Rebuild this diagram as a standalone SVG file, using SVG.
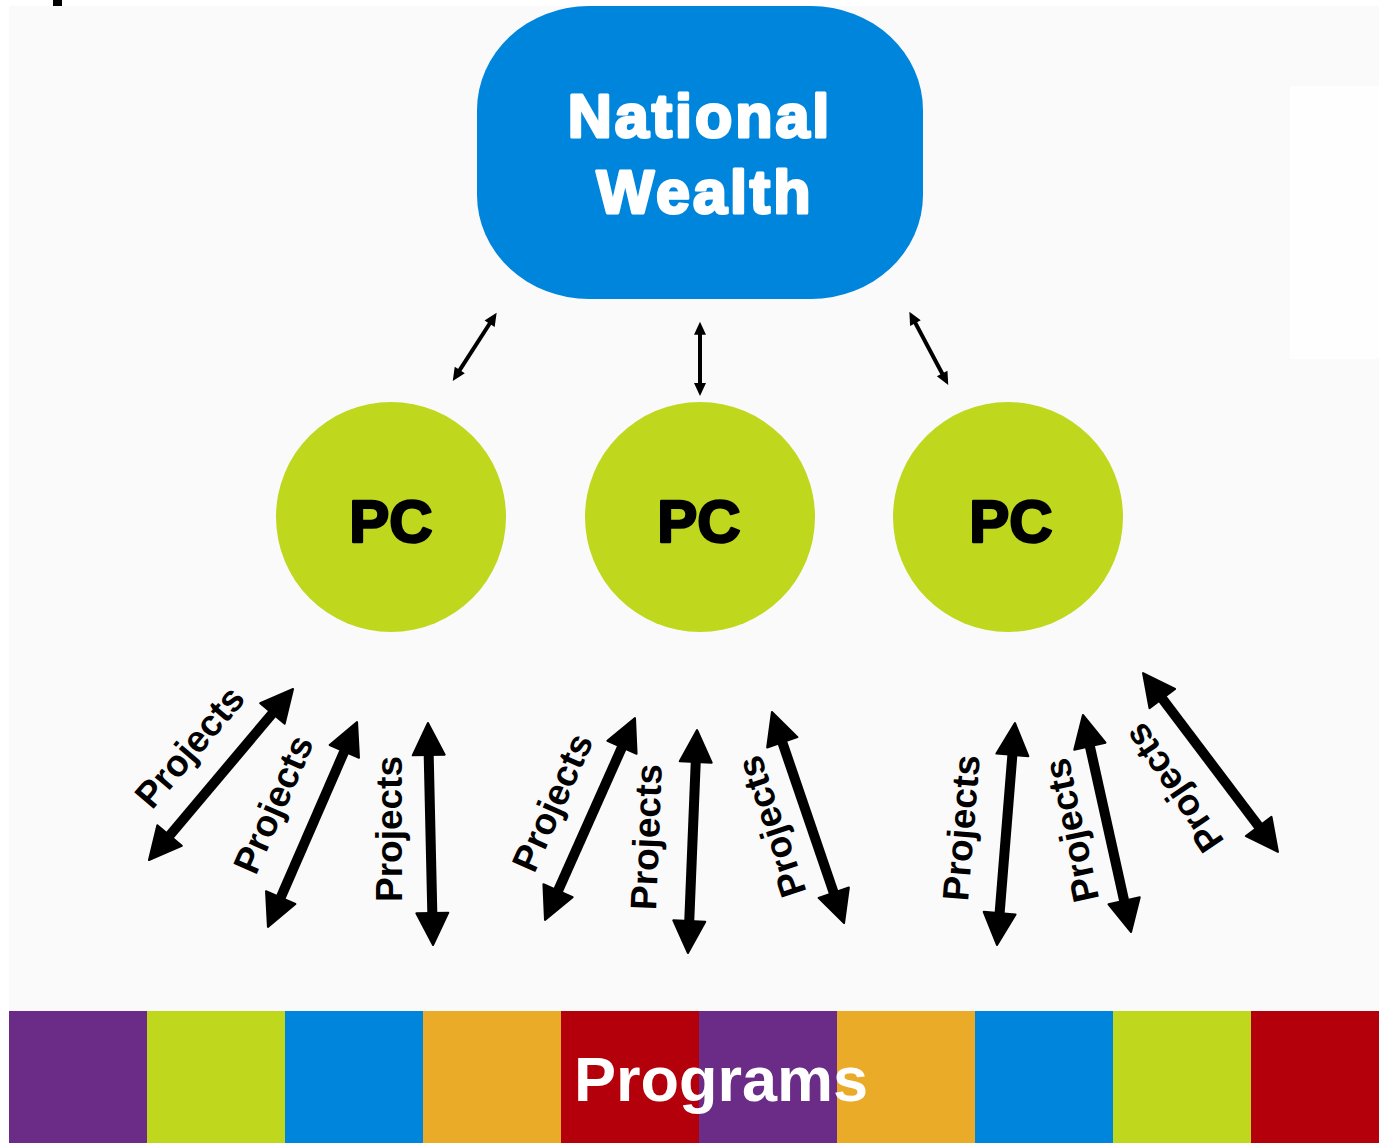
<svg xmlns="http://www.w3.org/2000/svg" width="1379" height="1143" viewBox="0 0 1379 1143">
  <style>
    .heavy { font-family: "Liberation Sans", Arial, sans-serif; font-weight: bold; text-anchor: middle; }
    .nw { fill: #ffffff; stroke: #ffffff; stroke-width: 3; stroke-linejoin: round; font-size: 61px; letter-spacing: 3px; }
    .pc { fill: #000000; stroke: #000000; stroke-width: 2.5; stroke-linejoin: round; font-size: 60px; }
    .proj { font-family: "Liberation Sans", Arial, sans-serif; font-weight: bold; font-size: 37px; fill: #000000; text-anchor: middle; }
    .thin { stroke: #000000; stroke-width: 4; fill: none; marker-start: url(#headS); marker-end: url(#headS); }
    .thick { stroke: #000000; stroke-width: 10; fill: none; marker-start: url(#headL); marker-end: url(#headL); }
    .pcnode { fill: #bfd71d; }
  </style>
  <defs>
    <marker id="headL" markerUnits="userSpaceOnUse" viewBox="-2 -2 36 36" markerWidth="36" markerHeight="36" refX="4" refY="16" orient="auto-start-reverse">
      <path d="M0,0 L32,16 L0,32 Z" fill="#000000" stroke="#000000" stroke-width="2" stroke-linejoin="round"/>
    </marker>
    <marker id="headS" markerUnits="userSpaceOnUse" viewBox="-1 -1 15 14" markerWidth="15" markerHeight="14" refX="2" refY="6" orient="auto-start-reverse">
      <path d="M0,0 L13,6 L0,12 Z" fill="#000000"/>
    </marker>
  </defs>

  <!-- page background -->
  <rect x="0" y="0" width="1379" height="1143" fill="#ffffff"/>
  <rect x="9" y="6" width="1370" height="1137" fill="#fafafa"/>
  <rect x="1290" y="86" width="89" height="273" fill="#fefefe"/>
  <rect x="53" y="0" width="9" height="6" fill="#000000"/>

  <!-- top node -->
  <g id="national-wealth">
    <rect x="477" y="6" width="446" height="293" rx="112" ry="104" fill="#0085dc"/>
    <text class="heavy nw" x="700" y="137">National</text>
    <text class="heavy nw" x="705" y="213">Wealth</text>
  </g>

  <!-- profit centres -->
  <g id="pc-1">
    <circle class="pcnode" cx="391" cy="517" r="115"/>
    <text class="heavy pc" x="391" y="542">PC</text>
  </g>
  <g id="pc-2">
    <circle class="pcnode" cx="700" cy="517" r="115"/>
    <text class="heavy pc" x="699" y="542">PC</text>
  </g>
  <g id="pc-3">
    <circle class="pcnode" cx="1008" cy="517" r="115"/>
    <text class="heavy pc" x="1011" y="542">PC</text>
  </g>

  <!-- programs band -->
  <g id="programs">
    <rect x="9" y="1011" width="138" height="132" fill="#6a2c86"/>
    <rect x="147" y="1011" width="138" height="132" fill="#bfd71d"/>
    <rect x="285" y="1011" width="138" height="132" fill="#0085dc"/>
    <rect x="423" y="1011" width="138" height="132" fill="#eaab28"/>
    <rect x="561" y="1011" width="138" height="132" fill="#b3000b"/>
    <rect x="699" y="1011" width="138" height="132" fill="#6a2c86"/>
    <rect x="837" y="1011" width="138" height="132" fill="#eaab28"/>
    <rect x="975" y="1011" width="138" height="132" fill="#0085dc"/>
    <rect x="1113" y="1011" width="138" height="132" fill="#bfd71d"/>
    <rect x="1251" y="1011" width="128" height="132" fill="#b3000b"/>
    <text x="574" y="1101" font-family="Liberation Sans, Arial, sans-serif" font-weight="bold" font-size="63" fill="#ffffff">Programs</text>
  </g>

  <!-- connectors -->
  <g id="connectors">
    <line class="thin" x1="490.7" y1="322" x2="458.7" y2="371.7"/>
    <line class="thin" x1="700" y1="332.7" x2="700" y2="385"/>
    <line class="thin" x1="914.5" y1="321.4" x2="943.1" y2="375.3"/>

    <line class="thick" x1="275" y1="710.4" x2="167" y2="838.6"/>
    <line class="thick" x1="345.9" y1="747.7" x2="279.1" y2="901.3"/>
    <line class="thick" x1="428.6" y1="751" x2="432.4" y2="917"/>
    <line class="thick" x1="623.6" y1="743.6" x2="556.4" y2="894.4"/>
    <line class="thick" x1="695.9" y1="758" x2="689.1" y2="925"/>
    <line class="thick" x1="781" y1="738.5" x2="835" y2="896.5"/>
    <line class="thick" x1="1012.7" y1="750.9" x2="999.3" y2="917.1"/>
    <line class="thick" x1="1089" y1="742.3" x2="1125" y2="904.7"/>
    <line class="thick" x1="1159.9" y1="695.4" x2="1261.1" y2="829.6"/>

    <text class="proj" transform="translate(191 748) rotate(-49.6)" y="11">Projects</text>
    <text class="proj" transform="translate(275 805) rotate(-66.4)" y="11">Projects</text>
    <text class="proj" transform="translate(391 829) rotate(-90)" y="11">Projects</text>
    <text class="proj" transform="translate(554 803) rotate(-66)" y="11">Projects</text>
    <text class="proj" transform="translate(648 837) rotate(-87.7)" y="11">Projects</text>
    <text class="proj" transform="translate(773 826) rotate(-108.6)" y="11">Projects</text>
    <text class="proj" transform="translate(963 828) rotate(-85.4)" y="11">Projects</text>
    <text class="proj" transform="translate(1073 830) rotate(-102.2)" y="11">Projects</text>
    <text class="proj" transform="translate(1175 787) rotate(-124)" y="11">Projects</text>
  </g>
</svg>
